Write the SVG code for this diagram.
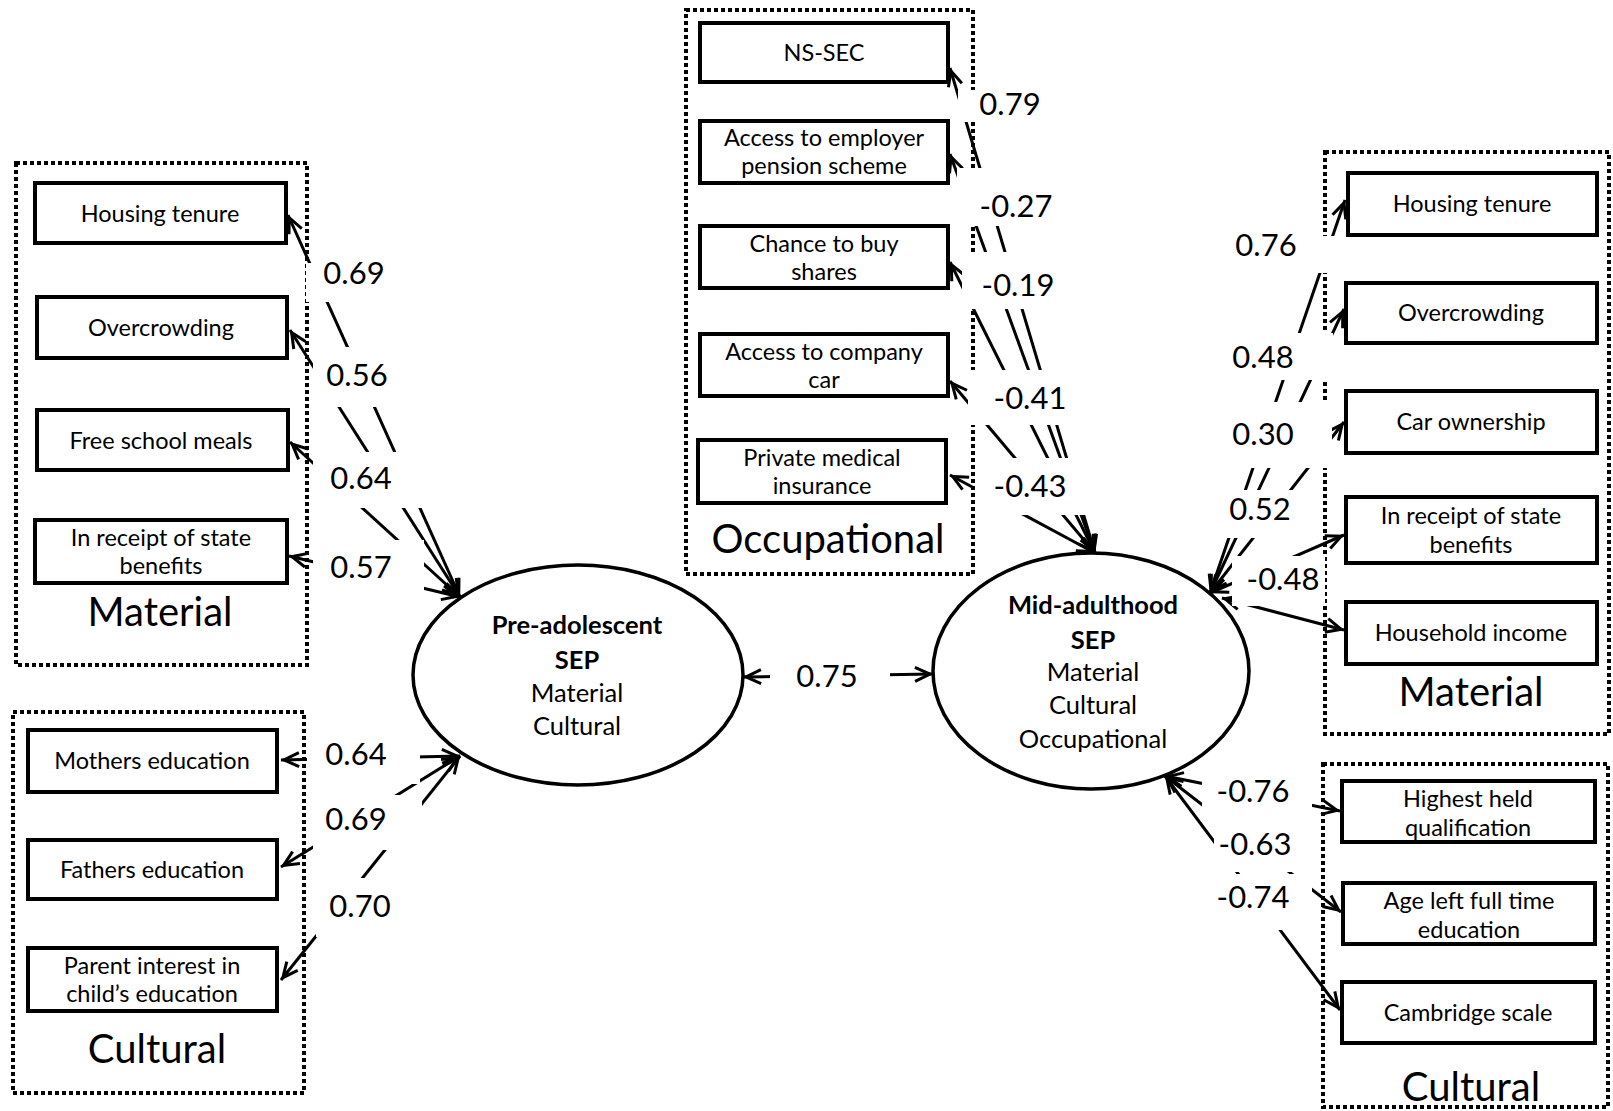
<svg xmlns="http://www.w3.org/2000/svg" width="1613" height="1111" viewBox="0 0 1613 1111">
<style>
.grp{fill:none;stroke:#000;stroke-width:4;stroke-dasharray:4 3}
.box{fill:#fff;stroke:#000;stroke-width:4}
.ell{fill:#fff;stroke:#000;stroke-width:3.5}
.t{font-family:Lato,"Liberation Sans",sans-serif;font-size:23.5px;text-anchor:middle;fill:#000}
.gt{font-family:Lato,"Liberation Sans",sans-serif;font-size:40px;text-anchor:middle;fill:#000}
.et{font-family:Lato,"Liberation Sans",sans-serif;font-size:25.5px;text-anchor:middle;fill:#000}
.b{font-weight:bold}
.lbl{font-family:Lato,"Liberation Sans",sans-serif;font-size:31px;text-anchor:middle;fill:#000}
.bg{fill:#fff}
.edge{fill:none;stroke:#000;stroke-width:3;marker-start:url(#ah);marker-end:url(#ah)}
</style>
<defs>
<marker id="ah" viewBox="0 0 24 20" refX="21" refY="10" markerWidth="24" markerHeight="20" markerUnits="userSpaceOnUse" orient="auto-start-reverse">
<path d="M3,3 L18,10 L3,17" fill="none" stroke="#000" stroke-width="3"/>
</marker>
</defs>
<rect width="1613" height="1111" fill="#fff"/>

<g id="group-material-left">
<rect class="grp" x="16" y="163" width="291" height="502"/>
<text class="gt" x="160" y="626">Material</text>
</g>
<g id="group-cultural-left">
<rect class="grp" x="13" y="712" width="291" height="381"/>
<text class="gt" x="157" y="1063">Cultural</text>
</g>
<g id="group-occupational">
<rect class="grp" x="686" y="10" width="287" height="564"/>
<text class="gt" x="828" y="553">Occupational</text>
</g>
<g id="group-material-right">
<rect class="grp" x="1325" y="152" width="284" height="582"/>
<text class="gt" x="1471" y="706">Material</text>
</g>
<g id="group-cultural-right">
<rect class="grp" x="1323" y="764" width="285" height="343"/>
<text class="gt" x="1471" y="1101">Cultural</text>
</g>

<g id="n-housing-tenure-1"><rect class="box" x="35" y="183" width="251" height="60"/><text class="t" x="160" y="222">Housing tenure</text></g>
<g id="n-overcrowding-1"><rect class="box" x="37" y="297" width="250" height="61"/><text class="t" x="161" y="336">Overcrowding</text></g>
<g id="n-free-school-meals"><rect class="box" x="37" y="410" width="251" height="60"/><text class="t" x="161" y="449">Free school meals</text></g>
<g id="n-state-benefits-1"><rect class="box" x="35" y="520" width="252" height="63"/><text class="t" x="161" y="546">In receipt of state</text><text class="t" x="161" y="574">benefits</text></g>

<g id="n-mothers-education"><rect class="box" x="28" y="730" width="249" height="62"/><text class="t" x="152" y="769">Mothers education</text></g>
<g id="n-fathers-education"><rect class="box" x="28" y="840" width="249" height="59"/><text class="t" x="152" y="878">Fathers education</text></g>
<g id="n-parent-interest"><rect class="box" x="28" y="948" width="249" height="63"/><text class="t" x="152" y="974">Parent interest in</text><text class="t" x="152" y="1002">child’s education</text></g>

<g id="n-ns-sec"><rect class="box" x="700" y="23" width="248" height="59"/><text class="t" x="824" y="61">NS-SEC</text></g>
<g id="n-employer-pension"><rect class="box" x="700" y="121" width="248" height="62"/><text class="t" x="824" y="146">Access to employer</text><text class="t" x="824" y="174">pension  scheme</text></g>
<g id="n-buy-shares"><rect class="box" x="700" y="226" width="248" height="62"/><text class="t" x="824" y="252">Chance to buy</text><text class="t" x="824" y="280">shares</text></g>
<g id="n-company-car"><rect class="box" x="700" y="334" width="248" height="62"/><text class="t" x="824" y="360">Access to company</text><text class="t" x="824" y="388">car</text></g>
<g id="n-medical-insurance"><rect class="box" x="698" y="440" width="248" height="63"/><text class="t" x="822" y="466">Private medical</text><text class="t" x="822" y="494">insurance</text></g>

<g id="n-housing-tenure-2"><rect class="box" x="1348" y="173" width="249" height="62"/><text class="t" x="1472" y="212">Housing tenure</text></g>
<g id="n-overcrowding-2"><rect class="box" x="1346" y="283" width="251" height="60"/><text class="t" x="1471" y="321">Overcrowding</text></g>
<g id="n-car-ownership"><rect class="box" x="1346" y="391" width="251" height="62"/><text class="t" x="1471" y="430">Car ownership</text></g>
<g id="n-state-benefits-2"><rect class="box" x="1346" y="497" width="251" height="66"/><text class="t" x="1471" y="524">In receipt of state</text><text class="t" x="1471" y="553">benefits</text></g>
<g id="n-household-income"><rect class="box" x="1346" y="602" width="251" height="62"/><text class="t" x="1471" y="641">Household income</text></g>

<g id="n-highest-qualification"><rect class="box" x="1342" y="781" width="253" height="61"/><text class="t" x="1468" y="807">Highest held</text><text class="t" x="1468" y="836">qualification</text></g>
<g id="n-age-left-education"><rect class="box" x="1343" y="883" width="252" height="61"/><text class="t" x="1469" y="909">Age left full time</text><text class="t" x="1469" y="938">education</text></g>
<g id="n-cambridge-scale"><rect class="box" x="1342" y="982" width="253" height="61"/><text class="t" x="1468" y="1021">Cambridge scale</text></g>

<g id="n-pre-adolescent">
<ellipse class="ell" cx="578" cy="675" rx="165" ry="110"/>
<text class="et b" x="577" y="634">Pre-adolescent</text>
<text class="et b" x="577" y="669">SEP</text>
<text class="et" x="577" y="702">Material</text>
<text class="et" x="577" y="735">Cultural</text>
</g>
<g id="n-mid-adulthood">
<ellipse class="ell" cx="1091" cy="671" rx="158" ry="118"/>
<text class="et b" x="1093" y="614">Mid-adulthood</text>
<text class="et b" x="1093" y="649">SEP</text>
<text class="et" x="1093" y="681">Material</text>
<text class="et" x="1093" y="714">Cultural</text>
<text class="et" x="1093" y="748">Occupational</text>
</g>

<g id="connectors">
<path class="edge" d="M460,597 L288,215"/>
<path class="edge" d="M460,597 L290,330"/>
<path class="edge" d="M460,597 L290,442"/>
<path class="edge" d="M460,597 L289,556"/>
<path class="edge" d="M460,756 L281,760"/>
<path class="edge" d="M460,756 L281,867"/>
<path class="edge" d="M460,756 L281,980"/>
<path class="edge" d="M1095,553 L950,68"/>
<path class="edge" d="M1095,553 L950,154"/>
<path class="edge" d="M1095,553 L950,262"/>
<path class="edge" d="M1095,553 L950,381"/>
<path class="edge" d="M1095,553 L950,475"/>
<path class="edge" d="M1210,593 L1345,200"/>
<path class="edge" d="M1210,593 L1344,309"/>
<path class="edge" d="M1210,593 L1344,422"/>
<path class="edge" d="M1210,593 L1344,535"/>
<path class="edge" d="M1222,598 L1344,630"/>
<path class="edge" d="M1165,776 L1340,811"/>
<path class="edge" d="M1165,776 L1341,912"/>
<path class="edge" d="M1165,776 L1340,1010"/>
<path class="edge" d="M743,677 L933,674"/>

<rect class="bg" x="306" y="263" width="94" height="39"/><text class="lbl" x="354" y="284">0.69</text>
<rect class="bg" x="313" y="347" width="87" height="60"/><text class="lbl" x="357" y="386">0.56</text>
<rect class="bg" x="313" y="452" width="112" height="56"/><text class="lbl" x="361" y="489">0.64</text>
<rect class="bg" x="313" y="540" width="111" height="60"/><text class="lbl" x="361" y="578">0.57</text>

<rect class="bg" x="307" y="737" width="113" height="47"/><text class="lbl" x="356" y="765">0.64</text>
<rect class="bg" x="313" y="795" width="109" height="55"/><text class="lbl" x="356" y="830">0.69</text>
<rect class="bg" x="316" y="878" width="84" height="59"/><text class="lbl" x="360" y="917">0.70</text>

<rect class="bg" x="958" y="90" width="102" height="32"/><text class="lbl" x="1010" y="115">0.79</text>
<rect class="bg" x="957" y="168" width="103" height="58"/><text class="lbl" x="1016" y="217">-0.27</text>
<rect class="bg" x="962" y="252" width="103" height="57"/><text class="lbl" x="1018" y="296">-0.19</text>
<rect class="bg" x="968" y="370" width="107" height="55"/><text class="lbl" x="1030" y="409">-0.41</text>
<rect class="bg" x="975" y="458" width="115" height="57"/><text class="lbl" x="1030" y="497">-0.43</text>

<rect class="bg" x="1225" y="236" width="110" height="37"/><text class="lbl" x="1266" y="256">0.76</text>
<rect class="bg" x="1225" y="333" width="108" height="47"/><text class="lbl" x="1263" y="368">0.48</text>
<rect class="bg" x="1225" y="402" width="107" height="66"/><text class="lbl" x="1263" y="445">0.30</text>
<rect class="bg" x="1222" y="490" width="78" height="48"/><text class="lbl" x="1260" y="520">0.52</text>
<rect class="bg" x="1232" y="556" width="93" height="50"/><text class="lbl" x="1283" y="590">-0.48</text>

<rect class="bg" x="1202" y="772" width="110" height="48"/><text class="lbl" x="1253" y="802">-0.76</text>
<rect class="bg" x="1214" y="820" width="98" height="52"/><text class="lbl" x="1255" y="855">-0.63</text>
<rect class="bg" x="1205" y="874" width="107" height="56"/><text class="lbl" x="1253" y="908">-0.74</text>

<rect class="bg" x="770" y="650" width="120" height="50"/><text class="lbl" x="827" y="687">0.75</text>
</g>
</svg>
